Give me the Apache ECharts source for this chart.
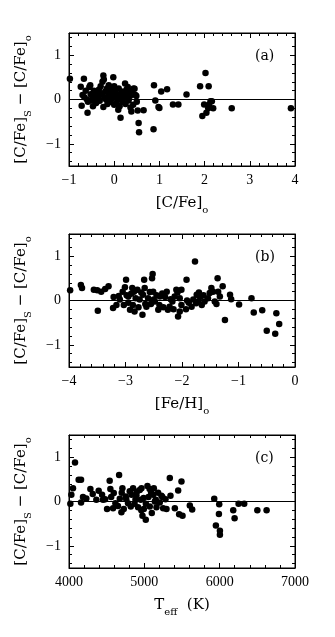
<!DOCTYPE html>
<html lang="en">
<head>
    <meta charset="UTF-8">
    <title>C/Fe residuals</title>
    <style>
        html, body { margin: 0; padding: 0; background: #fff; }
    </style>
</head>
<body>
<script src="https://cdn.jsdelivr.net/npm/echarts@6/dist/echarts.min.js"></script>

<div id="main" style="width: 335px;height:637px;"></div>

<script type="text/javascript">
    // panel (a): [C/Fe]o vs residual
    var dataA = [
        [-0.98,0.47],[-0.74,0.29],[-0.67,0.47],[-0.72,-0.14],[-0.59,-0.30],[-0.70,0.10],[-0.66,0.05],
        [-0.63,0.20],[-0.60,0.00],[-0.58,-0.05],[-0.55,0.28],[-0.53,0.32],[-0.52,0.12],[-0.50,-0.02],
        [-0.48,0.08],[-0.47,-0.15],[-0.45,0.20],[-0.43,0.02],[-0.42,0.15],[-0.40,-0.08],[-0.38,0.10],
        [-0.36,0.05],[-0.34,0.22],[-0.32,-0.03],[-0.30,0.30],[-0.28,0.12],[-0.26,0.40],[-0.24,0.54],
        [-0.23,0.45],[-0.24,-0.17],[-0.22,0.05],[-0.20,0.18],[-0.18,0.00],[-0.16,0.25],[-0.15,-0.10],
        [-0.13,0.08],[-0.12,0.32],[-0.10,0.15],[-0.08,-0.05],[-0.06,0.22],[-0.05,0.02],[-0.03,0.10],
        [-0.02,0.50],[0.00,0.30],[0.00,-0.12],[0.02,0.05],[0.03,0.20],[0.05,-0.08],[0.06,0.12],
        [0.08,0.00],[0.09,-0.23],[0.10,0.25],[0.12,-0.15],[0.14,-0.41],[0.15,0.08],[0.17,0.18],
        [0.18,-0.05],[0.20,0.02],[0.22,0.12],[0.24,0.36],[0.25,-0.10],[0.27,0.22],[0.28,0.05],
        [0.30,0.28],[0.32,-0.02],[0.33,0.15],[0.35,0.08],[0.36,-0.18],[0.38,-0.27],[0.40,0.20],
        [0.42,-0.12],[0.43,0.25],[0.45,0.24],[0.47,0.10],[0.49,0.08],[0.50,-0.05],[0.52,-0.25],
        [0.54,-0.53],[0.55,-0.74],[0.65,-0.24],[0.88,0.32],[0.91,-0.02],[0.98,-0.17],[1.00,-0.19],
        [1.04,0.18],[1.17,0.23],[0.87,-0.67],[1.30,-0.11],[1.42,-0.11],[1.60,0.11],[1.90,0.30],
        [2.02,0.60],[2.09,0.30],[1.95,-0.37],[1.99,-0.11],[2.04,-0.30],[2.10,-0.12],[2.13,-0.04],
        [2.16,-0.04],[2.19,-0.20],[2.08,-0.20],[2.60,-0.20],[3.91,-0.20]
    ];

    // panel (b): [Fe/H]o vs residual
    var dataB = [
        [-3.98,0.23],[-3.79,0.35],[-3.77,0.28],[-3.56,0.24],[-3.50,0.23],[-3.49,-0.23],[-3.43,0.20],
        [-3.36,0.26],[-3.30,0.32],[-3.21,0.08],[-3.22,-0.17],[-3.16,-0.10],[-3.10,0.02],[-3.05,0.20],
        [-2.99,0.47],[-3.01,0.30],[-3.03,-0.10],[-2.95,0.09],[-2.92,-0.21],[-2.88,0.28],[-2.87,-0.10],
        [-2.84,-0.25],[-2.79,0.24],[-2.75,0.02],[-2.69,0.13],[-2.67,0.47],[-2.66,0.28],[-2.70,-0.32],
        [-2.63,-0.14],[-2.57,0.19],[-2.53,0.50],[-2.52,0.60],[-2.51,0.20],[-2.48,-0.02],[-2.42,-0.21],
        [-2.39,0.09],[-2.33,-0.15],[-2.30,0.08],[-2.27,0.20],[-2.25,-0.21],[-2.22,-0.14],[-2.17,-0.02],
        [-2.13,0.09],[-2.08,0.18],[-2.04,-0.25],[-2.01,0.24],[-2.04,0.05],[-2.01,-0.10],[-1.93,-0.20],
        [-1.91,0.00],[-2.10,0.24],[-2.07,-0.36],[-1.92,0.47],[-1.83,-0.14],[-1.80,0.02],[-1.74,0.13],
        [-1.71,-0.02],[-1.70,0.18],[-1.68,0.08],[-1.65,-0.10],[-1.77,0.88],[-1.60,-0.02],[-1.54,0.05],
        [-1.51,0.17],[-1.48,0.28],[-1.45,0.20],[-1.42,-0.02],[-1.36,0.20],[-1.39,-0.08],[-1.37,0.50],
        [-1.33,0.09],[-1.28,0.32],[-1.24,-0.44],[-1.15,0.13],[-1.13,0.03],[-0.99,-0.09],[-0.77,0.05],
        [-0.73,-0.27],[-0.58,-0.22],[-0.50,-0.68],[-0.33,-0.29],[-0.35,-0.75],[-0.28,-0.53],
        [-2.95,-0.05],[-2.90,0.15],[-2.82,0.05],[-2.77,-0.15],[-2.72,0.18],[-2.60,0.05],[-2.55,-0.08],
        [-2.45,0.12],[-2.40,-0.10],[-2.35,0.16],[-2.20,0.03],[-2.15,-0.20],[-1.88,-0.05],[-1.75,-0.06],
        [-1.62,0.12],[-3.12,0.10],[-2.98,0.12],[-2.85,0.20],[-2.65,-0.08],[-2.50,0.02]
    ];

    // panel (c): Teff vs residual
    var dataC = [
        [4018,-0.05],[4031,0.15],[4053,0.30],[4080,0.88],[4128,0.49],[4160,0.49],[4160,-0.02],
        [4186,0.10],[4230,0.07],[4284,0.28],[4315,0.17],[4363,0.04],[4394,0.24],[4439,0.15],
        [4452,0.04],[4505,-0.17],[4540,0.47],[4549,0.28],[4585,-0.15],[4594,0.19],[4616,-0.04],
        [4665,0.60],[4674,0.06],[4696,-0.24],[4709,0.30],[4727,-0.17],[4753,0.11],[4784,-0.04],
        [4806,0.23],[4820,-0.11],[4851,0.30],[4882,0.04],[4895,0.14],[4917,-0.13],[4939,0.26],
        [4953,0.04],[4962,0.30],[4975,-0.32],[4993,-0.17],[5019,-0.41],[5041,0.35],[5055,0.10],
        [5072,-0.11],[5099,-0.26],[5117,0.15],[5126,0.30],[5152,0.04],[5161,-0.13],[5183,0.20],
        [5205,-0.02],[5227,0.13],[5250,-0.15],[5281,0.05],[5294,-0.17],[5338,0.53],[5347,0.13],
        [5405,-0.15],[5449,0.25],[5493,0.45],[5462,-0.29],[5507,-0.32],[5604,-0.09],[5635,-0.18],
        [5928,0.06],[5950,-0.54],[5994,-0.06],[5990,-0.28],[6003,-0.66],[6003,-0.75],[6180,-0.20],
        [6198,-0.38],[6251,-0.05],[6326,-0.05],[6500,-0.20],[6623,-0.20],
        [4700,0.20],[4760,0.05],[4830,0.15],[4870,-0.05],[4900,0.22],[4990,0.08],[5020,-0.05],
        [5090,0.20],[5140,0.00],[4650,-0.10],[4560,0.10],[4480,0.05],[5240,0.10],[4960,-0.20],[5070,0.28]
    ];

    var panelLabels = ['(a)', '(b)', '(c)'];
    var xRanges = [[-1, 4, 1], [-4, 0, 1], [4000, 7000, 1000]];
    var yTicks = [-1, 0, 1];
    var yMinorTicks = [-1.4, -1.2, -0.8, -0.6, -0.4, -0.2, 0.2, 0.4, 0.6, 0.8, 1.2, 1.4];

    var font = 'Liberation Serif';
    var titleFont = 'DejaVu Serif';
    var gridTops = [33, 234, 435];

    function fmt(v) {
        return String(v).replace('-', '\u2212');
    }

    var grids = [], xAxes = [], yAxes = [], series = [], titles = [];
    var datas = [dataA, dataB, dataC];
    var xNames = [
        '[C/Fe]{sub|o}',
        '[Fe/H]{sub|o}',
        'T{sub|eff}  (K)'
    ];
    var richText = {
        sub: { fontSize: 10, fontFamily: titleFont, color: '#000', verticalAlign: 'bottom', lineHeight: 24 }
    };

    for (var i = 0; i < 3; i++) {
        // box drawn by the grid border
        grids.push({ left: 69, top: gridTops[i], width: 226, height: 133, show: true, borderColor: '#000', borderWidth: 1 });

        ['bottom', 'top'].forEach(function (pos) {
            var ax = {
                gridIndex: i, type: 'value', position: pos,
                min: xRanges[i][0], max: xRanges[i][1], interval: xRanges[i][2],
                axisLine: { show: true, onZero: false, lineStyle: { color: '#000', width: 1 } },
                axisTick: { show: true, inside: true, length: 5, lineStyle: { color: '#000' } },
                minorTick: { show: true, splitNumber: 5, length: 3, lineStyle: { color: '#000' } },
                splitLine: { show: false },
                axisLabel: { show: pos === 'bottom', color: '#000', fontFamily: font, fontSize: 14, margin: 7, formatter: fmt }
            };
            if (pos === 'bottom') {
                ax.name = xNames[i];
                ax.nameLocation = 'middle';
                ax.nameGap = 25;
                ax.nameTextStyle = { color: '#000', fontFamily: titleFont, fontSize: 15, lineHeight: 24, rich: richText };
            }
            xAxes.push(ax);
        });

        ['left', 'right'].forEach(function (pos) {
            // major ticks
            var major = {
                gridIndex: i, type: 'value', position: pos, min: -1.5, max: 1.5,
                axisLine: { show: true, onZero: false, lineStyle: { color: '#000', width: 1 } },
                axisTick: { show: true, inside: true, length: 5, customValues: yTicks, lineStyle: { color: '#000' } },
                splitLine: { show: false },
                axisLabel: {
                    show: pos === 'left', customValues: yTicks, color: '#000',
                    fontFamily: font, fontSize: 14, margin: 8, formatter: fmt
                }
            };
            if (pos === 'left') {
                major.name = '[C/Fe]{sub|S} \u2212 [C/Fe]{sub|o}';
                major.nameLocation = 'middle';
                major.nameRotate = 90;
                major.nameGap = 36;
                major.nameTextStyle = { color: '#000', fontFamily: titleFont, fontSize: 15, lineHeight: 24, rich: richText };
            }
            yAxes.push(major);
            // minor ticks
            yAxes.push({
                gridIndex: i, type: 'value', position: pos, min: -1.5, max: 1.5,
                axisLine: { show: false, onZero: false },
                axisTick: { show: true, inside: true, length: 3, customValues: yMinorTicks, lineStyle: { color: '#000' } },
                splitLine: { show: false },
                axisLabel: { show: false }
            });
        });

        series.push({
            type: 'scatter',
            xAxisIndex: 2 * i,
            yAxisIndex: 4 * i,
            symbolSize: 6.5,
            itemStyle: { color: '#000', opacity: 1 },
            data: datas[i],
            markLine: {
                silent: true, symbol: 'none', animation: false,
                label: { show: false },
                lineStyle: { color: '#000', type: 'solid', width: 1 },
                data: [{ yAxis: 0 }]
            }
        });

        titles.push({
            text: panelLabels[i], left: 250, top: gridTops[i] + 11,
            textStyle: { color: '#000', fontFamily: titleFont, fontSize: 14, fontWeight: 'normal' }
        });
    }

    var myChart = echarts.init(document.getElementById('main'));
    var option = {
        animation: false,
        backgroundColor: '#fff',
        title: titles,
        grid: grids,
        xAxis: xAxes,
        yAxis: yAxes,
        series: series
    };
    myChart.setOption(option);
</script>
</body>
</html>
